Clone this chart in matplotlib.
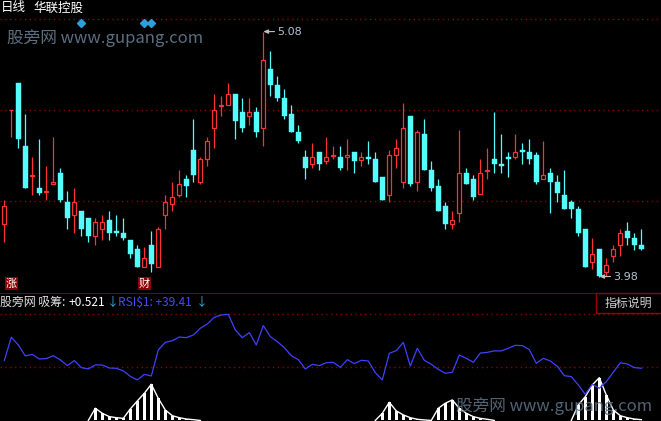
import numpy as np
import matplotlib
matplotlib.use("Agg")
import matplotlib.pyplot as plt

plt.rcParams["font.family"] = ["Noto Sans CJK SC", "DejaVu Sans"]

# daily OHLC, 92 sessions
opens = [4.218, 4.726, 4.848, 4.566, 4.430, 4.378, 4.361, 4.396, 4.445, 4.315,
         4.258, 4.275, 4.243, 4.164, 4.195, 4.234, 4.185, 4.176, 4.144, 4.104,
         4.025, 4.122, 4.025, 4.258, 4.307, 4.348, 4.418, 4.549, 4.405, 4.509,
         4.649, 4.747, 4.752, 4.800, 4.719, 4.703, 4.719, 4.649, 4.912, 4.840,
         4.782, 4.710, 4.629, 4.517, 4.487, 4.540, 4.500, 4.523, 4.517, 4.518,
         4.540, 4.502, 4.518, 4.508, 4.427, 4.348, 4.527, 4.406, 4.701, 4.406,
         4.620, 4.459, 4.387, 4.297, 4.218, 4.267, 4.444, 4.418, 4.350, 4.455,
         4.507, 4.487, 4.518, 4.518, 4.549, 4.540, 4.526, 4.420, 4.445, 4.405,
         4.346, 4.315, 4.284, 4.194, 4.043, 4.104, 4.002, 4.074, 4.123, 4.185,
         4.153, 4.122]
highs = [4.324, 4.728, 4.848, 4.710, 4.516, 4.598, 4.477, 4.607, 4.468, 4.364,
         4.378, 4.275, 4.243, 4.243, 4.257, 4.275, 4.257, 4.243, 4.144, 4.121,
         4.113, 4.185, 4.203, 4.346, 4.405, 4.459, 4.436, 4.688, 4.517, 4.607,
         4.801, 4.791, 4.849, 4.800, 4.782, 4.782, 4.740, 5.080, 4.992, 4.881,
         4.821, 4.749, 4.661, 4.549, 4.580, 4.540, 4.607, 4.566, 4.566, 4.598,
         4.540, 4.540, 4.589, 4.540, 4.427, 4.547, 4.598, 4.760, 4.701, 4.638,
         4.688, 4.499, 4.418, 4.315, 4.275, 4.638, 4.466, 4.435, 4.507, 4.556,
         4.719, 4.620, 4.538, 4.620, 4.580, 4.598, 4.540, 4.589, 4.468, 4.436,
         4.459, 4.324, 4.297, 4.194, 4.153, 4.104, 4.064, 4.122, 4.194, 4.225,
         4.176, 4.194]
lows = [4.137, 4.608, 4.559, 4.379, 4.348, 4.348, 4.324, 4.396, 4.316, 4.194,
        4.177, 4.164, 4.137, 4.123, 4.146, 4.144, 4.164, 4.144, 4.065, 4.025,
        4.025, 4.002, 4.025, 4.195, 4.276, 4.339, 4.339, 4.406, 4.396, 4.477,
        4.558, 4.701, 4.752, 4.598, 4.629, 4.661, 4.607, 4.568, 4.791, 4.770,
        4.689, 4.631, 4.581, 4.420, 4.469, 4.459, 4.487, 4.509, 4.460, 4.460,
        4.447, 4.478, 4.487, 4.406, 4.325, 4.316, 4.469, 4.379, 4.388, 4.366,
        4.460, 4.366, 4.276, 4.195, 4.195, 4.227, 4.397, 4.325, 4.350, 4.420,
        4.447, 4.447, 4.429, 4.508, 4.487, 4.487, 4.397, 4.420, 4.267, 4.315,
        4.284, 4.245, 4.164, 4.025, 4.016, 3.980, 3.984, 4.043, 4.074, 4.123,
        4.098, 4.097]
closes = [4.297, 4.728, 4.599, 4.379, 4.435, 4.355, 4.363, 4.405, 4.325, 4.245,
          4.315, 4.194, 4.164, 4.225, 4.225, 4.177, 4.176, 4.155, 4.083, 4.025,
          4.062, 4.034, 4.192, 4.315, 4.337, 4.396, 4.387, 4.436, 4.508, 4.589,
          4.728, 4.749, 4.800, 4.680, 4.647, 4.719, 4.629, 4.951, 4.840, 4.782,
          4.701, 4.631, 4.590, 4.469, 4.517, 4.486, 4.517, 4.525, 4.469, 4.525,
          4.500, 4.516, 4.509, 4.406, 4.325, 4.525, 4.556, 4.646, 4.397, 4.628,
          4.460, 4.379, 4.276, 4.218, 4.233, 4.444, 4.397, 4.339, 4.444, 4.457,
          4.487, 4.478, 4.509, 4.538, 4.540, 4.508, 4.406, 4.435, 4.406, 4.357,
          4.284, 4.285, 4.177, 4.025, 4.082, 3.984, 4.032, 4.104, 4.175, 4.155,
          4.123, 4.105]

# indicator panel
rsi = [45.2, 62.8, 57.0, 48.7, 49.9, 46.4, 46.7, 48.9, 45.7, 41.4,
       45.2, 39.9, 38.9, 41.9, 41.9, 39.6, 39.4, 37.4, 33.3, 30.6,
       34.8, 33.6, 53.2, 59.0, 60.2, 63.0, 62.5, 64.5, 69.6, 72.8,
       77.9, 79.6, 80.1, 68.3, 62.5, 66.3, 57.0, 71.6, 63.3, 59.5,
       55.0, 48.9, 45.9, 38.9, 42.4, 41.4, 43.6, 43.9, 40.1, 45.9,
       42.9, 45.4, 44.9, 36.1, 30.6, 50.7, 52.7, 59.0, 41.1, 54.5,
       45.4, 42.4, 38.6, 35.6, 36.4, 49.4, 46.9, 43.9, 50.9, 51.4,
       52.5, 52.5, 54.5, 56.7, 56.5, 53.5, 43.1, 46.9, 44.9, 40.9,
       33.8, 33.1, 26.8, 19.7, 27.3, 24.3, 29.3, 36.4, 43.6, 42.6,
       39.9, 39.41]
xichou = [0, 0, 0, 0, 0, 0, 0, 0, 0, 0,
          0, 0, 0, 9.2, 5.4, 2.9, 2.1, 1.6, 8.7, 14.7,
          20.5, 27.3, 16.7, 7.9, 3.6, 2.1, 1.1, 0.6, 0, 0,
          0, 0, 0, 0, 0, 0, 0, 0, 0, 0,
          0, 0, 0, 0, 0, 0, 0, 0, 0, 0,
          0, 0, 0, 0, 5.4, 13.7, 7.2, 4.2, 2.1, 0.9,
          0.4, 0, 9.2, 13.0, 15.5, 9.2, 5.4, 2.9, 1.6, 0.9,
          0, 0, 0, 0, 0, 0, 0, 0, 0, 0,
          0, 0, 11.7, 18.0, 26.8, 32.3, 19.2, 7.9, 3.6, 2.1,
          1.1, 0.6]

diamond_idx = [11, 20, 21]
zhang_idx, cai_idx = 1, 20

RED = "#ff3232"
CYAN = "#54fcfc"
GRID = "#8c0000"
W, H = 661, 421

fig = plt.figure(figsize=(W / 100, H / 100), dpi=100, facecolor="black")

def fx(px):
    return px / W

def fy(py):
    return 1 - py / H

n = len(closes)
x = np.arange(n)
xlim = (-4.3 / 7, (W - 4.3) / 7)

# ---- main candlestick panel (pixel rows 18..293)
ax = fig.add_axes([0, fy(293), 1, (293 - 18) / H])
ax.set_facecolor("black")
lo, hi = 3.906, 5.141
ax.set_xlim(*xlim)
ax.set_ylim(lo, hi)
for f in (1 / 3, 2 / 3, 0.997):
    ax.axhline(lo + f * (hi - lo), color=GRID, lw=1, ls=(0, (1, 2.5)), zorder=0)

o = np.array(opens); c = np.array(closes)
up = c >= o
body_lo = np.minimum(o, c)
body_h = np.maximum(np.abs(c - o), 0.002)
ax.vlines(x, lows, highs, colors=np.where(up, RED, CYAN), lw=0.9, zorder=1)
ax.bar(x[up], body_h[up], bottom=body_lo[up], width=0.62,
       facecolor="black", edgecolor=RED, linewidth=0.9, zorder=2)
ax.bar(x[~up], body_h[~up], bottom=body_lo[~up], width=0.72,
       facecolor=CYAN, edgecolor=CYAN, linewidth=0.3, zorder=2)
ax.axis("off")

imax = int(np.argmax(highs)); imin = int(np.argmin(lows))
ax.annotate(f"{highs[imax]:.2f}", xy=(imax, highs[imax]), xytext=(imax + 2.0, highs[imax]),
            color="#b4c4d4", fontsize=8, va="center", ha="left", family="DejaVu Sans",
            arrowprops=dict(arrowstyle="-|>,head_length=0.35,head_width=0.15",
                            color="#c0c0c0", lw=0.8, shrinkA=0, shrinkB=0))
ax.annotate(f"{lows[imin]:.2f}", xy=(imin, lows[imin]), xytext=(imin + 2.0, lows[imin]),
            color="#b4c4d4", fontsize=8, va="center", ha="left", family="DejaVu Sans",
            arrowprops=dict(arrowstyle="-|>,head_length=0.35,head_width=0.15",
                            color="#c0c0c0", lw=0.8, shrinkA=0, shrinkB=0))

# ---- indicator panel (pixel rows 293..421)
ax2 = fig.add_axes([0, 0, 1, 128 / H])
ax2.set_facecolor("black")
ax2.set_xlim(*xlim)
ax2.set_ylim(-0.4, 96.2)
for v in (40, 80):
    ax2.axhline(v, color=GRID, lw=1, ls=(0, (1, 2.5)), zorder=0)
ax2.axhline(96.0, color="#9a0000", lw=1.2)

xc = np.array(xichou, dtype=float)
ax2.bar(x[xc > 0], xc[xc > 0], width=0.5, color="white", zorder=2)
keep = (xc > 0) | (np.roll(xc, 1) > 0) | (np.roll(xc, -1) > 0)
ax2.plot(x, np.where(keep, xc, np.nan), color="white", lw=1.0, zorder=2)
ax2.plot(x, rsi, color="#4040ff", lw=0.9, zorder=3)
ax2.axis("off")

# ---- texts
fig.text(fx(1), fy(8), "日线", color="white", fontsize=9, va="center")
fig.text(fx(33), fy(8), "华联控股", color="white", fontsize=9, va="center")
for i in diamond_idx:
    fig.lines.append(plt.Line2D([fx(4.3 + 7 * i)], [fy(22.5)], marker="D", ms=4.2,
                                color="#2d9fd9", transform=fig.transFigure))
fig.text(fx(7), fy(38), "股旁网 www.gupang.com", color="#5b6e80", fontsize=12, va="center")
fig.text(fx(456), fy(406), "股旁网 www.gupang.com", color="#5b6e80", fontsize=12,
         va="center", alpha=0.9, zorder=10)

for i, s in ((zhang_idx, "涨"), (cai_idx, "财")):
    fig.text(fx(4.3 + 7 * i), fy(283.5), s, color="white", fontsize=8, ha="center", va="center",
             bbox=dict(boxstyle="square,pad=0.1", fc="#8b0000", ec="none"))

fs = 8.6
t = fig.text(fx(0), fy(302), "股旁网 吸筹: ", color="#e0e0e0", fontsize=fs, va="center")
fig.text(fx(69), fy(302), f"+{0.521:.3f}", color="white", fontsize=fs, va="center")
fig.text(fx(107), fy(302), "↓", color="#3fa8d8", fontsize=fs, va="center")
fig.text(fx(118), fy(302), f"RSI$1: +{rsi[-1]:.2f}", color="#4848ff", fontsize=fs,
         va="center", usetex=False, parse_math=False)
fig.text(fx(196), fy(302), "↓", color="#3fa8d8", fontsize=fs, va="center")

fig.patches.append(plt.Rectangle((fx(596), fy(313)), fx(66), 20 / H, transform=fig.transFigure,
                                 fc="black", ec="#9a0000", lw=1))
fig.text(fx(628), fy(303), "指标说明", color="#d0d0d0", fontsize=8.6, ha="center", va="center")

fig.savefig("out.png", dpi=100, facecolor="black")
